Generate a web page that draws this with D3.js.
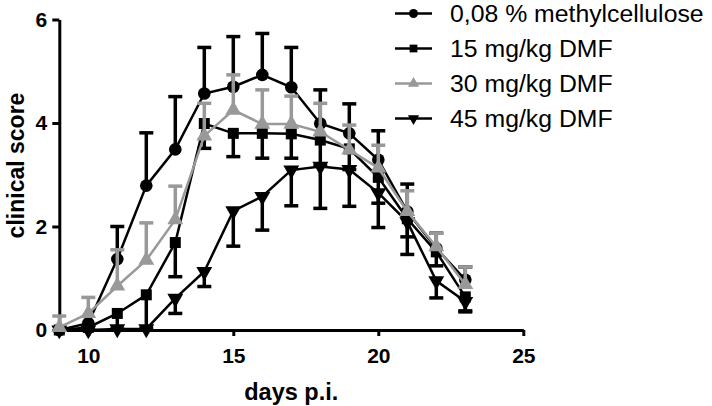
<!DOCTYPE html>
<html>
<head>
<meta charset="utf-8">
<script src="https://cdn.jsdelivr.net/npm/d3@7"></script>
<style>
  html, body { margin: 0; padding: 0; background: #fff; }
  svg { display: block; }
</style>
</head>
<body>
<svg id="chart" width="712" height="406"></svg>
<script>
const days = [9, 10, 11, 12, 13, 14, 15, 16, 17, 18, 19, 20, 21, 22, 23];
const seriesNames = ["0,08 % methylcellulose", "15 mg/kg DMF", "30 mg/kg DMF", "45 mg/kg DMF"];
const methylMean = [0, 0.13, 1.37, 2.79, 3.49, 4.57, 4.70, 4.93, 4.69, 3.99, 3.80, 3.29, 2.29, 1.58, 0.97];
const methylSem  = [0, 0, 0.63, 1.02, 1.02, 0.89, 0.97, 0.80, 0.77, 0.65, 0.57, 0.56, 0.53, 0.29, 0.25];
const dmf15Mean  = [0, 0.05, 0.32, 0.68, 1.69, 3.99, 3.80, 3.80, 3.79, 3.67, 3.50, 2.95, 2.15, 1.51, 0.64];
const dmf15Sem   = [0, 0.05, 0.30, 0.65, 0.66, 0.48, 0.45, 0.48, 0.47, 0.50, 0.40, 0.50, 0.35, 0.27, 0.29];
const dmf30Mean  = [0.05, 0.32, 0.85, 1.35, 2.13, 3.75, 4.25, 3.98, 3.98, 3.83, 3.48, 3.13, 2.29, 1.61, 0.88];
const dmf30Sem   = [0.22, 0.31, 0.70, 0.72, 0.65, 0.63, 0.68, 0.66, 0.54, 0.55, 0.48, 0.44, 0.40, 0.26, 0.34];
const dmf45Mean  = [0, 0, 0.02, 0.02, 0.61, 1.13, 2.30, 2.58, 3.09, 3.16, 3.10, 2.65, 2.09, 0.95, 0.55];
const dmf45Sem   = [0, 0, 0, 0, 0.29, 0.29, 0.68, 0.65, 0.69, 0.81, 0.71, 0.67, 0.63, 0.33, 0.18];
const xTicks = [10, 15, 20, 25];
const yTicks = [0, 2, 4, 6];

const series = [
  { name: seriesNames[1], mean: dmf15Mean, sem: dmf15Sem, dir: -1, color: "#000", symbol: d3.symbolSquare, size: 121, rot: 0, legendSize: 60 },
  { name: seriesNames[3], mean: dmf45Mean, sem: dmf45Sem, dir: -1, color: "#000", symbol: d3.symbolTriangle, size: 110, rot: 180, legendSize: 55 },
  { name: seriesNames[0], mean: methylMean, sem: methylSem, dir: 1, color: "#000", symbol: d3.symbolCircle, size: 125, rot: 0, legendSize: 64 },
  { name: seriesNames[2], mean: dmf30Mean, sem: dmf30Sem, dir: 1, color: "#999999", symbol: d3.symbolTriangle, size: 110, rot: 0, legendSize: 55 }
];

const svg = d3.select("#chart");
const x = d3.scaleLinear().domain([9, 25]).range([59.3, 523.3]);
const y = d3.scaleLinear().domain([0, 6]).range([330, 19.5]);
const font = "'Liberation Sans', Arial, Helvetica, sans-serif";

// axes
const yAxis = svg.append("g").attr("transform", `translate(${x(9)},0)`)
  .call(d3.axisLeft(y).tickValues(yTicks).tickSize(7).tickSizeOuter(0).tickPadding(5).tickFormat(d3.format("d")));
const xAxis = svg.append("g").attr("transform", `translate(0,${y(0)})`)
  .call(d3.axisBottom(x).tickValues(xTicks).tickSize(6).tickSizeOuter(0).tickPadding(12).tickFormat(d3.format("d")));
[yAxis, xAxis].forEach(g => {
  g.select(".domain").attr("stroke", "#000").attr("stroke-width", 3);
  g.selectAll(".tick line").attr("stroke", "#000").attr("stroke-width", 3);
  g.selectAll(".tick text").attr("fill", "#000").style("font-family", font)
    .style("font-weight", "bold").style("font-size", "21px");
});

// axis titles
svg.append("text").attr("transform", `translate(24,165.5) rotate(-90)`)
  .attr("text-anchor", "middle").style("font-family", font).style("font-weight", "bold")
  .style("font-size", "23px").text("clinical score");
svg.append("text").attr("x", x(17)).attr("y", 400)
  .attr("text-anchor", "middle").style("font-family", font).style("font-weight", "bold")
  .style("font-size", "23.5px").text("days p.i.");

const line = d3.line().x(d => x(d.day)).y(d => y(d.mean));

series.forEach(s => {
  const pts = days.map((d, i) => ({ day: d, mean: s.mean[i], sem: s.sem[i] }));
  const g = svg.append("g");
  // error bars
  const eb = g.selectAll(".eb").data(pts.filter(p => p.sem > 0)).enter().append("g");
  eb.append("line")
    .attr("x1", p => x(p.day)).attr("x2", p => x(p.day))
    .attr("y1", p => y(p.mean)).attr("y2", p => y(p.mean + s.dir * p.sem))
    .attr("stroke", s.color).attr("stroke-width", 3.5);
  eb.append("line")
    .attr("x1", p => x(p.day) - 7).attr("x2", p => x(p.day) + 7)
    .attr("y1", p => y(p.mean + s.dir * p.sem)).attr("y2", p => y(p.mean + s.dir * p.sem))
    .attr("stroke", s.color).attr("stroke-width", 3.5);
  // line
  g.append("path").datum(pts).attr("d", line).attr("fill", "none")
    .attr("stroke", s.color).attr("stroke-width", 2.5);
  // markers
  g.selectAll(".m").data(pts).enter().append("path")
    .attr("d", d3.symbol().type(s.symbol).size(s.size))
    .attr("transform", p => `translate(${x(p.day)},${y(p.mean)}) rotate(${s.rot})`)
    .attr("fill", s.color);
});

// legend
const legendOrder = [2, 0, 3, 1]; // indices into series for methyl, 15, 30, 45
legendOrder.forEach((si, i) => {
  const s = series[si];
  const cy = 13.5 + i * 35;
  const g = svg.append("g");
  g.append("line").attr("x1", 395).attr("x2", 432).attr("y1", cy).attr("y2", cy)
    .attr("stroke", s.color).attr("stroke-width", 2.5);
  g.append("path").attr("d", d3.symbol().type(s.symbol).size(s.legendSize))
    .attr("transform", `translate(413.5,${cy}) rotate(${s.rot})`).attr("fill", s.color);
  g.append("text").attr("x", 450).attr("y", cy + 8.7)
    .style("font-family", font).style("font-size", "24.8px").attr("fill", "#000").text(s.name);
});
</script>
</body>
</html>
